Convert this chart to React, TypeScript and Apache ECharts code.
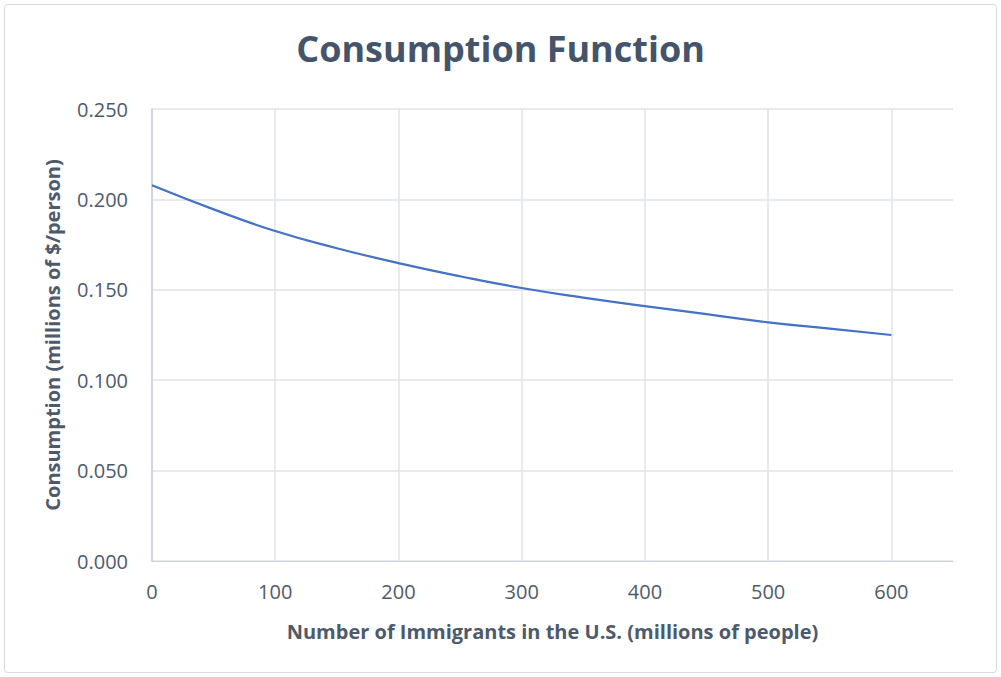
import React, { useEffect, useRef } from "react";
import * as echarts from "echarts";

// Immigrant population (millions of people)
const immigrants = [0, 50, 100, 150, 200, 250, 300, 350, 400, 450, 500, 550, 600];
// Consumption per person (millions of $/person)
const consumption = [0.2078, 0.1945, 0.1825, 0.173, 0.1648, 0.1575, 0.151, 0.1457, 0.141, 0.1365, 0.132, 0.1285, 0.125];

const FONT = "'Open Sans', 'Noto Sans', sans-serif";
const TEXT = "#4E5A6C";

export default function App() {
  const ref = useRef<HTMLDivElement>(null);

  useEffect(() => {
    if (!ref.current) return;
    const chart = echarts.init(ref.current, undefined, { renderer: "svg" });
    chart.setOption({
      animation: false,
      backgroundColor: "#ffffff",
      graphic: [
        {
          type: "rect",
          shape: { x: 4.5, y: 4.5, width: 992, height: 668, r: 3 },
          style: { fill: "none", stroke: "#D9D9D9", lineWidth: 1 },
          silent: true,
        },
      ],
      title: {
        text: "Consumption Function",
        left: "center",
        top: 25,
        textStyle: {
          fontFamily: FONT,
          fontSize: 36,
          fontWeight: "bold",
          color: "#44546A",
        },
      },
      grid: { left: 152, right: 48, top: 109, bottom: 116, containLabel: false },
      xAxis: {
        type: "value",
        min: 0,
        max: 650,
        interval: 100,
        name: "Number of Immigrants in the U.S. (millions of people)",
        nameLocation: "middle",
        nameGap: 60,
        nameTextStyle: { fontFamily: FONT, fontSize: 20, fontWeight: "bold", color: TEXT },
        axisLine: { show: true, lineStyle: { color: "#D0D4DA", width: 1 } },
        axisTick: { show: false },
        axisLabel: {
          fontFamily: FONT,
          fontSize: 20,
          color: TEXT,
          margin: 20,
          showMaxLabel: false,
        },
        splitLine: { show: true, showMaxLine: false, lineStyle: { color: "#E1E4E9", width: 1.5 } },
      },
      yAxis: {
        type: "value",
        min: 0,
        max: 0.25,
        interval: 0.05,
        name: "Consumption (millions of $/person)",
        nameLocation: "middle",
        nameGap: 90,
        nameTextStyle: { fontFamily: FONT, fontSize: 20, fontWeight: "bold", color: TEXT },
        axisLine: { show: true, lineStyle: { color: "#C8CDD5", width: 1.5 } },
        axisTick: { show: false },
        axisLabel: {
          fontFamily: FONT,
          fontSize: 20,
          color: TEXT,
          margin: 24,
          formatter: (v: number) => v.toFixed(3),
        },
        splitLine: { show: true, lineStyle: { color: "#E1E4E9", width: 1.5 } },
      },
      series: [
        {
          type: "line",
          data: immigrants.map((x, i) => [x, consumption[i]]),
          smooth: true,
          showSymbol: false,
          lineStyle: { color: "#4472C4", width: 2.25 },
        },
      ],
    });
    return () => chart.dispose();
  }, []);

  return (
    <div
      ref={ref}
      style={{ position: "fixed", left: 0, top: 0, width: 1001, height: 677, background: "#fff" }}
    />
  );
}
